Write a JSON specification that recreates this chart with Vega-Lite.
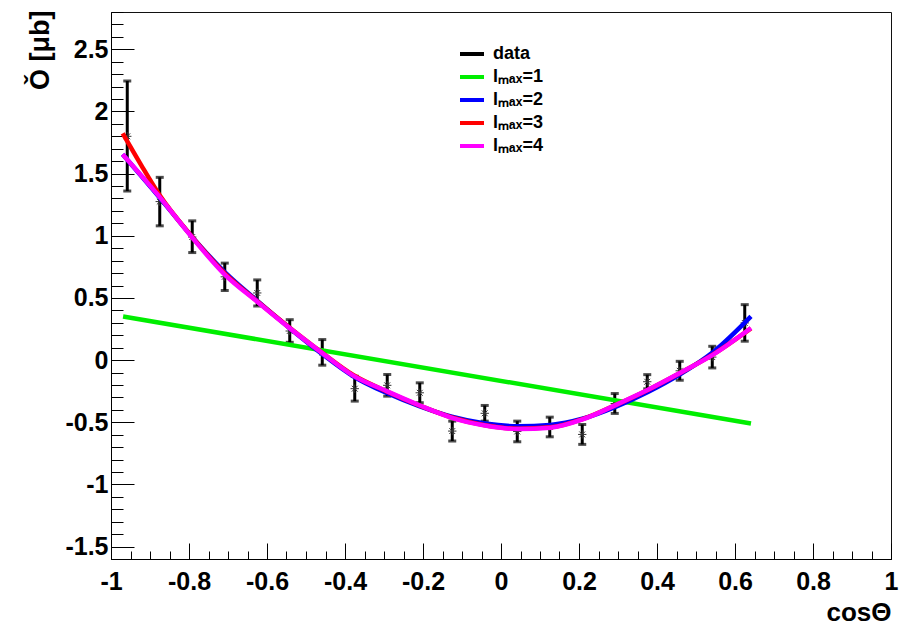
{
  "$schema": "https://vega.github.io/schema/vega-lite/v6.json",
  "width": 780,
  "height": 547,
  "autosize": {"type": "none"},
  "padding": {"left": 111, "top": 12, "right": 10, "bottom": 68},
  "background": "white",
  "config": {
    "view": {"stroke": "#111", "strokeWidth": 1},
    "font": "Liberation Sans",
    "axis": {
      "labelFont": "Liberation Sans", "labelFontWeight": "bold", "labelFontSize": 25, "labelColor": "#000",
      "tickColor": "#000", "tickWidth": 1, "domainColor": "#000", "domainWidth": 1, "grid": false,
      "titleFont": "Liberation Sans", "titleColor": "#000", "titleFontWeight": "bold",
      "labelFlush": false, "labelOverlap": false, "labelBound": false
    },
    "legend": {
      "orient": "none", "legendX": 347, "legendY": 28, "padding": 0,
      "symbolType": "stroke", "symbolStrokeWidth": 4, "symbolSize": 576,
      "labelFont": "Liberation Sans", "labelFontSize": 18, "labelFontWeight": "bold", "labelColor": "#000",
      "labelOffset": 7, "rowPadding": 0, "title": null
    }
  },
  "datasets": {
    "pts": [
      {"series": "data", "x": -0.9583, "y": 1.80, "lo": 1.36, "hi": 2.245},
      {"series": "data", "x": -0.875, "y": 1.275, "lo": 1.08, "hi": 1.47},
      {"series": "data", "x": -0.7917, "y": 0.99, "lo": 0.865, "hi": 1.12},
      {"series": "data", "x": -0.7083, "y": 0.67, "lo": 0.56, "hi": 0.78},
      {"series": "data", "x": -0.625, "y": 0.54, "lo": 0.435, "hi": 0.645},
      {"series": "data", "x": -0.5417, "y": 0.234, "lo": 0.143, "hi": 0.325},
      {"series": "data", "x": -0.4583, "y": 0.062, "lo": -0.041, "hi": 0.165},
      {"series": "data", "x": -0.375, "y": -0.23, "lo": -0.33, "hi": -0.13},
      {"series": "data", "x": -0.2917, "y": -0.203, "lo": -0.29, "hi": -0.116},
      {"series": "data", "x": -0.2083, "y": -0.263, "lo": -0.343, "hi": -0.183},
      {"series": "data", "x": -0.125, "y": -0.571, "lo": -0.651, "hi": -0.491},
      {"series": "data", "x": -0.0417, "y": -0.428, "lo": -0.491, "hi": -0.365},
      {"series": "data", "x": 0.0417, "y": -0.574, "lo": -0.657, "hi": -0.491},
      {"series": "data", "x": 0.125, "y": -0.538, "lo": -0.617, "hi": -0.459},
      {"series": "data", "x": 0.2083, "y": -0.598, "lo": -0.678, "hi": -0.518},
      {"series": "data", "x": 0.2917, "y": -0.349, "lo": -0.429, "hi": -0.269},
      {"series": "data", "x": 0.375, "y": -0.174, "lo": -0.231, "hi": -0.117},
      {"series": "data", "x": 0.4583, "y": -0.086, "lo": -0.162, "hi": -0.01},
      {"series": "data", "x": 0.5417, "y": 0.024, "lo": -0.063, "hi": 0.111},
      {"series": "data", "x": 0.625, "y": 0.299, "lo": 0.152, "hi": 0.446}
    ],
    "fits": [
      {"series": "lₘₐₓ=1", "x": -0.969, "y": 0.351},
      {"series": "lₘₐₓ=1", "x": 0.641, "y": -0.51},

      {"series": "lₘₐₓ=2", "x": -0.970, "y": 1.655},
      {"series": "lₘₐₓ=2", "x": -0.876, "y": 1.31},
      {"series": "lₘₐₓ=2", "x": -0.793, "y": 0.995},
      {"series": "lₘₐₓ=2", "x": -0.709, "y": 0.71},
      {"series": "lₘₐₓ=2", "x": -0.626, "y": 0.48},
      {"series": "lₘₐₓ=2", "x": -0.541, "y": 0.255},
      {"series": "lₘₐₓ=2", "x": -0.459, "y": 0.05},
      {"series": "lₘₐₓ=2", "x": -0.379, "y": -0.13},
      {"series": "lₘₐₓ=2", "x": -0.293, "y": -0.265},
      {"series": "lₘₐₓ=2", "x": -0.208, "y": -0.372},
      {"series": "lₘₐₓ=2", "x": -0.126, "y": -0.455},
      {"series": "lₘₐₓ=2", "x": -0.041, "y": -0.51},
      {"series": "lₘₐₓ=2", "x": 0.044, "y": -0.532},
      {"series": "lₘₐₓ=2", "x": 0.126, "y": -0.522},
      {"series": "lₘₐₓ=2", "x": 0.211, "y": -0.47},
      {"series": "lₘₐₓ=2", "x": 0.295, "y": -0.375},
      {"series": "lₘₐₓ=2", "x": 0.378, "y": -0.255},
      {"series": "lₘₐₓ=2", "x": 0.459, "y": -0.115},
      {"series": "lₘₐₓ=2", "x": 0.544, "y": 0.065},
      {"series": "lₘₐₓ=2", "x": 0.641, "y": 0.352},

      {"series": "lₘₐₓ=3", "x": -0.970, "y": 1.823},
      {"series": "lₘₐₓ=3", "x": -0.923, "y": 1.57},
      {"series": "lₘₐₓ=3", "x": -0.876, "y": 1.33},
      {"series": "lₘₐₓ=3", "x": -0.793, "y": 0.995},
      {"series": "lₘₐₓ=3", "x": -0.709, "y": 0.70},
      {"series": "lₘₐₓ=3", "x": -0.626, "y": 0.475},
      {"series": "lₘₐₓ=3", "x": -0.541, "y": 0.258},
      {"series": "lₘₐₓ=3", "x": -0.459, "y": 0.06},
      {"series": "lₘₐₓ=3", "x": -0.379, "y": -0.12},
      {"series": "lₘₐₓ=3", "x": -0.293, "y": -0.252},
      {"series": "lₘₐₓ=3", "x": -0.208, "y": -0.367},
      {"series": "lₘₐₓ=3", "x": -0.126, "y": -0.462},
      {"series": "lₘₐₓ=3", "x": -0.041, "y": -0.524},
      {"series": "lₘₐₓ=3", "x": 0.044, "y": -0.552},
      {"series": "lₘₐₓ=3", "x": 0.126, "y": -0.541},
      {"series": "lₘₐₓ=3", "x": 0.211, "y": -0.473},
      {"series": "lₘₐₓ=3", "x": 0.295, "y": -0.36},
      {"series": "lₘₐₓ=3", "x": 0.378, "y": -0.238},
      {"series": "lₘₐₓ=3", "x": 0.459, "y": -0.104},
      {"series": "lₘₐₓ=3", "x": 0.544, "y": 0.046},
      {"series": "lₘₐₓ=3", "x": 0.641, "y": 0.255},

      {"series": "lₘₐₓ=4", "x": -0.970, "y": 1.655},
      {"series": "lₘₐₓ=4", "x": -0.876, "y": 1.315},
      {"series": "lₘₐₓ=4", "x": -0.793, "y": 0.99},
      {"series": "lₘₐₓ=4", "x": -0.709, "y": 0.69},
      {"series": "lₘₐₓ=4", "x": -0.626, "y": 0.472},
      {"series": "lₘₐₓ=4", "x": -0.541, "y": 0.255},
      {"series": "lₘₐₓ=4", "x": -0.459, "y": 0.058},
      {"series": "lₘₐₓ=4", "x": -0.379, "y": -0.125},
      {"series": "lₘₐₓ=4", "x": -0.293, "y": -0.25},
      {"series": "lₘₐₓ=4", "x": -0.208, "y": -0.365},
      {"series": "lₘₐₓ=4", "x": -0.126, "y": -0.464},
      {"series": "lₘₐₓ=4", "x": -0.041, "y": -0.526},
      {"series": "lₘₐₓ=4", "x": 0.044, "y": -0.555},
      {"series": "lₘₐₓ=4", "x": 0.126, "y": -0.544},
      {"series": "lₘₐₓ=4", "x": 0.211, "y": -0.475},
      {"series": "lₘₐₓ=4", "x": 0.295, "y": -0.36},
      {"series": "lₘₐₓ=4", "x": 0.378, "y": -0.237},
      {"series": "lₘₐₓ=4", "x": 0.459, "y": -0.103},
      {"series": "lₘₐₓ=4", "x": 0.544, "y": 0.044},
      {"series": "lₘₐₓ=4", "x": 0.641, "y": 0.258}
    ]
  },
  "layer": [
    {
      "data": {"name": "pts"},
      "mark": {"type": "rule", "strokeWidth": 3},
      "encoding": {
        "x": {"field": "x", "type": "quantitative", "scale": {"domain": [-1, 1], "nice": false, "zero": false},
          "axis": {"orient": "bottom", "values": [-1, -0.8, -0.6, -0.4, -0.2, 0, 0.2, 0.4, 0.6, 0.8, 1], "tickSize": -16, "labels": false, "title": null, "domain": true}},
        "y": {"field": "lo", "type": "quantitative", "scale": {"domain": [-1.6, 2.8], "nice": false, "zero": false},
          "axis": {"orient": "left", "values": [-1.5, -1, -0.5, 0, 0.5, 1, 1.5, 2, 2.5], "tickSize": -23, "labels": false, "title": null, "domain": true}},
        "y2": {"field": "hi"},
        "color": {"field": "series", "type": "nominal",
          "scale": {"domain": ["data", "lₘₐₓ=1", "lₘₐₓ=2", "lₘₐₓ=3", "lₘₐₓ=4"], "range": ["#000000", "#00ee00", "#0000ff", "#ff0000", "#ff00ff"]},
          "legend": {"title": null}}
      }
    },
    {
      "data": {"name": "pts"},
      "mark": {"type": "tick", "orient": "horizontal", "size": 8, "thickness": 3, "color": "#000"},
      "encoding": {
        "x": {"field": "x", "type": "quantitative", "scale": {"domain": [-1, 1], "nice": false, "zero": false},
          "axis": {"orient": "bottom", "values": [-1, -0.95, -0.9, -0.85, -0.8, -0.75, -0.7, -0.65, -0.6, -0.55, -0.5, -0.45, -0.4, -0.35, -0.3, -0.25, -0.2, -0.15, -0.1, -0.05, 0, 0.05, 0.1, 0.15, 0.2, 0.25, 0.3, 0.35, 0.4, 0.45, 0.5, 0.55, 0.6, 0.65, 0.7, 0.75, 0.8, 0.85, 0.9, 0.95, 1], "tickSize": -8, "labels": false, "title": null, "domain": false}},
        "y": {"field": "lo", "type": "quantitative", "scale": {"domain": [-1.6, 2.8], "nice": false, "zero": false},
          "axis": {"orient": "left", "values": [-1.6, -1.5, -1.4, -1.3, -1.2, -1.1, -1, -0.9, -0.8, -0.7, -0.6, -0.5, -0.4, -0.3, -0.2, -0.1, 0, 0.1, 0.2, 0.3, 0.4, 0.5, 0.6, 0.7, 0.8, 0.9, 1, 1.1, 1.2, 1.3, 1.4, 1.5, 1.6, 1.7, 1.8, 1.9, 2, 2.1, 2.2, 2.3, 2.4, 2.5, 2.6, 2.7, 2.8], "tickSize": -12, "labels": false, "title": null, "domain": false}}
      }
    },
    {
      "data": {"name": "pts"},
      "mark": {"type": "tick", "orient": "horizontal", "size": 8, "thickness": 3, "color": "#000"},
      "encoding": {
        "x": {"field": "x", "type": "quantitative", "scale": {"domain": [-1, 1], "nice": false, "zero": false},
          "axis": {"orient": "bottom", "values": [-1, -0.8, -0.6, -0.4, -0.2, 0, 0.2, 0.4, 0.6, 0.8, 1], "ticks": false, "domain": false, "labelPadding": 10,
            "labelExpr": "(datum.value < 0 ? '-' : '') + format(abs(datum.value), '~g')",
            "title": "cosΘ", "titleFontSize": 26, "titleAnchor": "end", "titleAlign": "right", "titleBaseline": "alphabetic", "titleX": 780, "titleY": 61}},
        "y": {"field": "hi", "type": "quantitative", "scale": {"domain": [-1.6, 2.8], "nice": false, "zero": false},
          "axis": {"orient": "left", "values": [-1.5, -1, -0.5, 0, 0.5, 1, 1.5, 2, 2.5], "ticks": false, "domain": false, "labelPadding": 3,
            "labelExpr": "(datum.value < 0 ? '-' : '') + format(abs(datum.value), '~g')",
            "title": "Ǒ [μb]", "titleFontSize": 27, "titleAngle": 270, "titleAnchor": "end", "titleAlign": "right", "titleBaseline": "alphabetic", "titleX": -63, "titleY": -2}}
      }
    },
    {
      "data": {"name": "pts"},
      "mark": {"type": "point", "shape": "M-1,0L1,0M0,-1L0,1M-0.7,-0.7L0.7,0.7M-0.7,0.7L0.7,-0.7", "size": 70, "filled": false, "stroke": "#333", "strokeWidth": 1, "opacity": 1},
      "encoding": {
        "x": {"field": "x", "type": "quantitative", "scale": {"domain": [-1, 1], "nice": false, "zero": false}, "axis": null},
        "y": {"field": "y", "type": "quantitative", "scale": {"domain": [-1.6, 2.8], "nice": false, "zero": false}, "axis": null}
      }
    },
    {
      "data": {"name": "fits"},
      "mark": {"type": "line", "strokeWidth": 4.5, "interpolate": "monotone"},
      "encoding": {
        "x": {"field": "x", "type": "quantitative", "scale": {"domain": [-1, 1], "nice": false, "zero": false}, "axis": null},
        "y": {"field": "y", "type": "quantitative", "scale": {"domain": [-1.6, 2.8], "nice": false, "zero": false}, "axis": null},
        "color": {"field": "series", "type": "nominal", "legend": {"title": null}}
      }
    }
  ],
  "resolve": {"axis": {"x": "independent", "y": "independent"}}
}
